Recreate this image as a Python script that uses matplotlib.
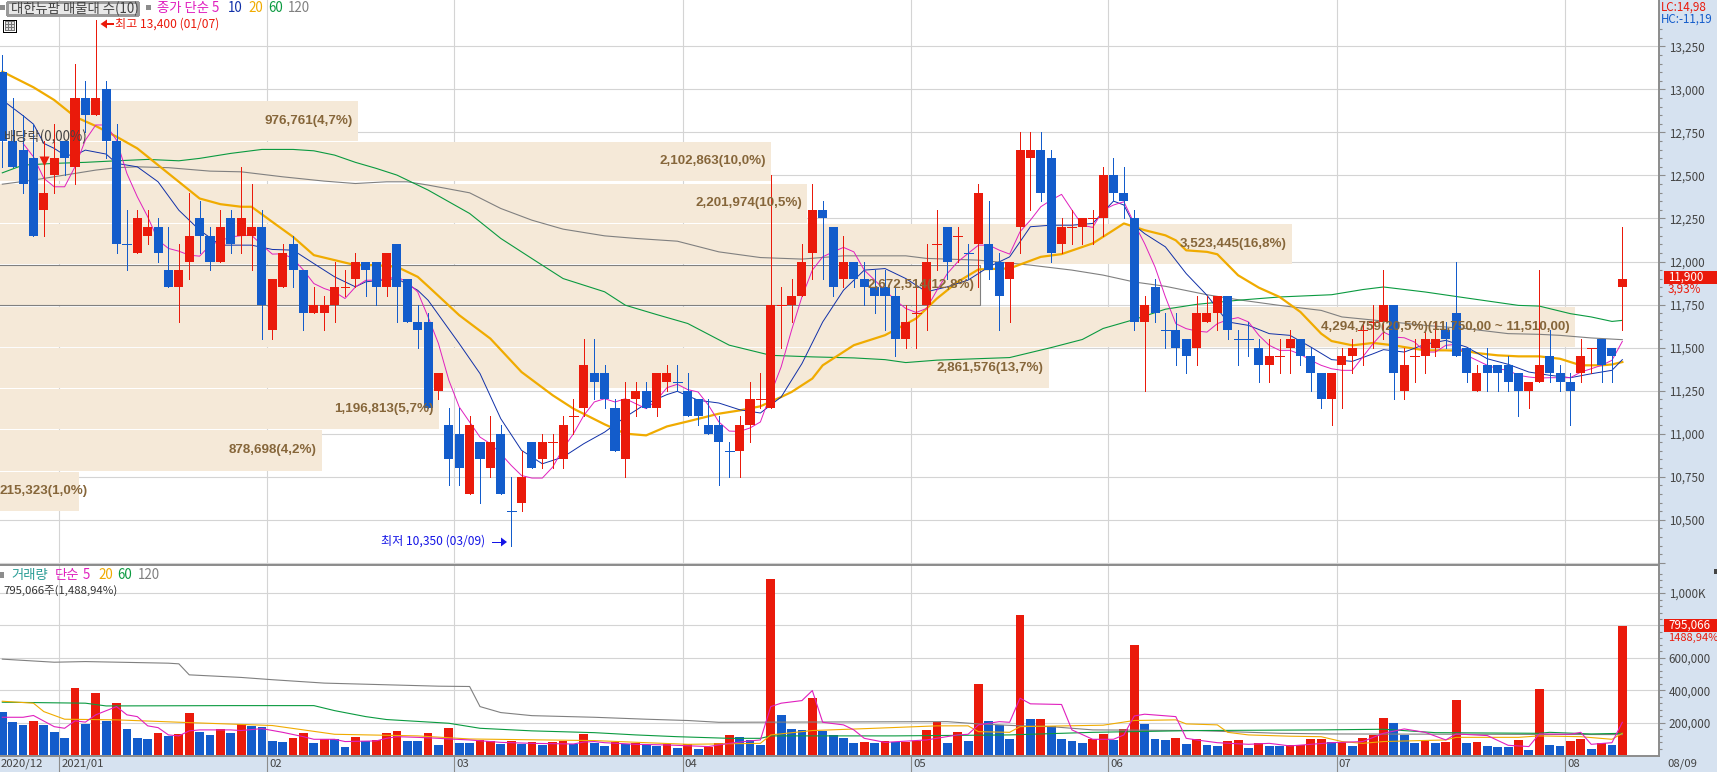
import matplotlib
matplotlib.use('Agg')
import matplotlib.pyplot as plt
from matplotlib.patches import Rectangle, Polygon
from matplotlib.ticker import FixedLocator

W, H = 1717, 772
FONTS = ['Noto Sans CJK KR', 'DejaVu Sans']
plt.rcParams['font.family'] = FONTS

RED = '#ea1a0b'
BLUE = '#135ccb'
BAND = '#f5e9d8'
GRID = '#d4d4d4'
PANEL = '#d6e2f0'
MAGENTA = '#e01fbe'
NAVY = '#1030a8'
ORANGE = '#f0ab00'
GREEN = '#0a9a40'
GRAY = '#808080'

# candles, day by day
opens = [13100,12700,12650,12600,12300,12500,12700,12550,12950,12850,
         13000,12700,12100,12050,12150,12200,11950,11850,12000,12250,
         12150,12000,12250,12150,12150,12200,11600,11850,12100,11950,
         11700,11700,11750,11850,11900,12000,12000,11850,12100,11900,
         11650,11650,11250,11050,11000,10650,10950,10800,11000,10550,
         10600,10950,10850,10950,10850,11100,11150,11350,11350,11150,
         10850,11200,11250,11150,11300,11300,11250,11200,11050,11050,
         10900,10900,11050,11200,11150,11750,11750,11800,12050,12300,
         12200,11900,12000,11900,11850,11850,11800,11550,11700,11750,
         12100,12200,12150,12050,12100,12100,12000,11900,12200,12600,
         12650,12600,12100,12200,12200,12250,12250,12500,12400,12250,
         11650,11850,11600,11600,11550,11500,11650,11700,11800,11550,
         11550,11500,11400,11450,11500,11550,11450,11350,11200,11400,
         11450,11600,11650,11650,11750,11250,11450,11450,11500,11600,
         11700,11500,11250,11400,11400,11400,11350,11250,11300,11450,
         11350,11300,11350,11500,11550,11500,11850]
closes = [12700,12550,12450,12150,12400,12600,12600,12950,12850,12950,
          12700,12100,12100,12250,12200,12050,11850,11950,12150,12150,
          12000,12200,12100,12250,12200,11750,11900,12050,11950,11700,
          11750,11750,11850,11850,12000,11950,11850,12050,11850,11650,
          11600,11150,11350,10850,10800,11050,10850,10950,10650,10550,
          10750,10800,10950,10950,11050,11100,11400,11300,11200,10900,
          11200,11250,11150,11350,11350,11300,11100,11100,11000,10950,
          10900,11050,11200,11200,11750,11750,11800,12000,12300,12250,
          11850,12000,11900,11850,11800,11800,11550,11650,11700,12000,
          12100,12000,12150,12050,12400,11950,11800,12000,12650,12650,
          12400,12050,12200,12200,12250,12250,12500,12400,12350,11650,
          11750,11700,11600,11500,11450,11700,11700,11800,11600,11550,
          11550,11400,11450,11450,11550,11450,11350,11200,11350,11450,
          11500,11600,11650,11750,11350,11400,11450,11550,11550,11550,
          11450,11350,11350,11350,11350,11300,11250,11300,11400,11350,
          11300,11250,11450,11500,11400,11450,11900]
highs = [13200,12950,12850,12800,12700,12800,12700,13150,13050,13400,
         13050,12800,12300,12300,12300,12250,12200,12100,12400,12350,
         12200,12300,12300,12550,12450,12300,11900,12100,12150,11950,
         11850,11800,12000,11950,12050,12000,12000,12050,12100,11900,
         11750,11700,11350,11150,11150,11100,10950,11100,11050,10750,
         10900,10950,11000,11000,11100,11200,11550,11550,11400,11200,
         11300,11300,11300,11350,11400,11400,11350,11200,11200,11100,
         10950,11100,11300,11350,12500,11850,11900,12100,12450,12350,
         12200,12150,12000,12000,11950,11950,11850,11750,11850,12100,
         12300,12200,12200,12100,12450,12350,12050,12000,12750,12750,
         12750,12650,12250,12300,12250,12300,12550,12600,12550,12300,
         11800,11900,11700,11700,11550,11800,11800,11800,11800,11600,
         11650,11550,11550,11550,11600,11550,11500,11350,11350,11500,
         11550,11650,11750,11950,11750,11500,11550,11600,11650,11650,
         12000,11500,11400,11500,11400,11450,11350,11300,11950,11600,
         11400,11350,11550,11500,11550,11500,12200]
lows = [12550,12550,12400,12150,12150,12400,12500,12450,12750,12850,
        12600,12050,11950,12050,12100,12000,11850,11650,11900,12050,
        11950,12000,12050,12050,11950,11550,11550,11850,11850,11600,
        11700,11600,11650,11800,11850,11800,11750,11800,11650,11650,
        11500,11150,11200,10700,10700,10650,10600,10750,10650,10350,
        10550,10800,10800,10800,10800,11000,11100,11200,11150,10900,
        10750,11100,11150,11100,11250,11250,11100,11050,11000,10700,
        10750,10750,10950,11150,11150,11500,11650,11800,11900,11900,
        11800,11850,11850,11750,11700,11600,11450,11500,11500,11600,
        11950,11900,12000,11900,11850,11900,11600,11650,12050,12300,
        12350,12000,12050,12100,12100,12100,12150,12350,12250,11600,
        11250,11650,11500,11400,11350,11400,11650,11600,11550,11400,
        11450,11300,11300,11350,11350,11400,11250,11150,11050,11150,
        11350,11400,11500,11550,11200,11200,11300,11350,11450,11500,
        11450,11300,11250,11250,11250,11250,11100,11150,11300,11300,
        11250,11050,11300,11350,11300,11300,11600]
down_dojis = [12, 49, 65, 70, 93, 112, 119, 120]

# price moving averages, index then value
ma5_x = list(range(2, 157))
ma5 = [12686,12608,12483,12434,12434,12550,12705,12793,12793,12705,12511,12376,12260,12124,12076,12060,12037,12031,
       12095,12120,12143,12150,12153,12095,12043,12045,12017,11950,11872,11843,11823,11785,11852,11891,11892,11900,
       11911,11880,11823,11678,11523,11310,11155,11068,10980,10942,10883,10816,10757,10742,10742,10806,10913,11000,
       11106,11184,11203,11184,11203,11174,11145,11194,11267,11287,11256,11242,11165,11068,11015,11013,11033,11068,
       11232,11388,11601,11795,11950,12027,12056,12082,12056,11950,11892,11833,11775,11727,11704,11727,11833,11930,
       11998,12047,12095,12095,12066,12043,12173,12240,12318,12357,12390,12299,12211,12198,12299,12328,12347,12221,
       12104,11968,11794,11639,11610,11596,11590,11639,11662,11674,11649,11571,11513,11484,11484,11461,11426,11397,
       11377,11368,11368,11445,11523,11590,11561,11557,11532,11474,11474,11513,11519,11455,11426,11397,11377,11368,
       11339,11329,11323,11325,11325,11325,11358,11377,11397,11426,11536]
ma10_x = [0,2,3,4,5,6,7,8,10,11,13,15,17,19,21,24,26,28,30,32,34,35,38,40,41,44,46,48,50,52,54,56,58,60,62,64,65,67,69,71,73,
          75,77,79,81,83,85,87,89,91,93,95,97,99,101,103,105,107,108,109,110,112,114,116,118,120,122,124,126,128,130,132,133,135,
          137,139,141,143,145,147,149,151,153,155,156]
ma10 = [12938,12847,12798,12686,12657,12618,12618,12647,12624,12570,12550,12463,12298,12182,12095,12095,12070,12066,11988,11911,
        11853,11882,11901,11833,11775,11523,11349,11087,10903,10825,10864,10942,11009,11097,11174,11227,11246,11194,11178,11139,
        11120,11213,11407,11649,11833,11950,11959,11901,11824,11853,11892,11969,12027,12202,12211,12211,12221,12351,12328,12211,
        12162,12085,11930,11804,11649,11629,11581,11571,11503,11430,11420,11464,11488,11474,11519,11542,11503,11435,11403,11358,
        11339,11325,11348,11368,11430]
ma20_x = [0,3,5,7,9,11,13,15,17,19,21,23,24,26,28,30,32,34,36,38,40,41,44,47,50,53,55,58,60,62,64,66,69,71,73,75,76,78,79,82,85,88,
          90,92,94,97,100,102,105,107,108,110,112,113,114,116,117,119,121,123,125,127,128,130,132,134,135,137,139,141,142,144,146,
          148,150,151,152,154,155,156]
ma20 = [13103,13012,12938,12841,12787,12725,12657,12560,12463,12366,12333,12318,12318,12230,12143,12037,12008,11979,11979,11969,
        11911,11856,11688,11552,11358,11223,11145,11054,11000,10990,11042,11071,11116,11135,11159,11213,11242,11320,11397,11514,
        11572,11669,11785,11882,11954,11960,12027,12043,12105,12182,12221,12182,12152,12123,12065,12056,12042,11920,11848,11794,
        11707,11581,11538,11513,11527,11513,11503,11484,11484,11480,11468,11455,11449,11449,11435,11416,11397,11397,11402,11416]
ma60_x = [0,2,5,8,11,14,17,19,22,25,28,30,32,34,36,38,41,45,48,51,54,58,60,63,66,70,74,78,82,85,87,90,97,101,104,106,109,112,
          115,119,123,128,131,133,137,141,146,148,151,153,155,156]
ma60 = [12515,12560,12570,12576,12585,12593,12585,12599,12628,12651,12651,12643,12618,12576,12541,12502,12415,12279,12134,12017,
        11901,11824,11746,11692,11640,11514,11455,11446,11440,11430,11413,11427,11442,11500,11547,11611,11663,11723,
        11751,11775,11794,11807,11837,11852,11823,11788,11745,11741,11697,11678,11652,11658]
ma120_x = [0,3,6,9,11,13,16,20,23,27,31,34,37,39,41,45,48,51,54,58,61,65,69,73,77,81,87,89,94,99,103,106,109,112,116,119,123,127,
           129,133,137,141,145,148,150,153,156]
ma120 = [12449,12473,12502,12531,12545,12550,12545,12525,12521,12492,12467,12453,12463,12463,12444,12399,12308,12240,12188,12149,
         12134,12118,12056,12023,12014,12033,12033,12018,12008,11979,11950,11921,11881,11856,11807,11778,11745,11716,
         11678,11654,11629,11610,11581,11577,11571,11556,11546]

# volume by price bands
band_tops = [12932,12695,12453,12217,11979,11736,11500,11258,11019,10780]
band_bottoms = [12699,12467,12224,11984,11746,11503,11265,11025,10786,10550]
band_vols = [976761,2102863,2201974,3523445,2672514,4294759,2861576,1196813,878698,215323]
band_labels = ['976,761(4,7%)','2,102,863(10,0%)','2,201,974(10,5%)','3,523,445(16,8%)','2,672,514(12,8%)',
               '4,294,759(20,5%)(11,750,00 ~ 11,510,00)','2,861,576(13,7%)','1,196,813(5,7%)','878,698(4,2%)','215,323(1,0%)']

# volume pane
volumes = [268000,204000,186000,211000,186000,142000,105000,415000,192000,384000,
           211000,322000,161000,105000,99000,136000,120000,130000,260000,142000,
           124000,161000,136000,192000,180000,173000,87000,80000,105000,136000,
           74000,99000,99000,50000,111000,87000,93000,136000,149000,87000,
           87000,136000,62000,167000,74000,74000,93000,87000,68000,87000,
           68000,80000,62000,80000,87000,68000,130000,74000,56000,80000,
           68000,74000,62000,56000,68000,43000,68000,37000,50000,74000,
           124000,111000,93000,62000,1084000,248000,161000,155000,353000,149000,
           124000,105000,74000,80000,74000,87000,80000,80000,87000,155000,
           204000,74000,142000,87000,440000,211000,186000,99000,867000,223000,
           223000,180000,99000,87000,74000,99000,130000,93000,161000,681000,
           192000,99000,93000,105000,68000,99000,62000,56000,87000,93000,
           43000,74000,56000,56000,62000,62000,99000,99000,80000,80000,
           56000,105000,124000,229000,198000,124000,74000,87000,74000,80000,
           341000,74000,80000,56000,50000,50000,93000,31000,409000,62000,
           56000,87000,99000,37000,74000,62000,795066]
vol_red = [3,7,9,11,15,17,18,21,23,28,29,31,34,36,37,38,41,43,46,47,49,51,53,54,56,59,61,64,66,68,69,70,74,78,83,85,87,88,89,90,
           92,94,98,100,105,106,108,109,113,115,118,119,121,124,125,126,127,129,131,132,133,137,139,140,142,146,148,151,152,154,156]
vol5_x = [0,2,3,5,6,7,8,9,11,12,13,14,15,16,17,18,19,22,23,25,27,29,30,32,33,36,37,38,40,42,43,45,48,51,55,56,57,58,61,64,68,70,
          72,73,74,75,77,78,79,81,82,83,85,89,92,93,94,96,97,98,99,102,103,105,107,108,109,110,113,114,115,117,120,122,124,128,131,
          133,135,137,139,140,143,145,147,148,151,152,153,155,156]
vol5 = [233000,233000,244000,175000,165000,211000,203000,248000,299000,248000,237000,180000,169000,124000,118000,149000,155000,
        155000,151000,163000,140000,113000,97000,97000,83000,87000,103000,113000,109000,103000,99000,93000,78000,72000,68000,
        80000,83000,76000,66000,62000,52000,72000,87000,93000,299000,320000,336000,398000,202000,186000,155000,103000,78000,
        93000,124000,128000,186000,206000,202000,351000,316000,312000,155000,97000,97000,124000,241000,252000,237000,103000,93000,
        76000,66000,72000,56000,76000,83000,134000,161000,140000,93000,130000,120000,60000,52000,130000,128000,140000,66000,76000,202000]
vol20_x = [0,3,4,6,11,18,26,32,40,45,57,62,66,73,74,78,84,90,93,94,97,98,106,109,113,114,115,117,118,120,124,127,129,131,133,139,
           140,146,148,152,155,156]
vol20 = [332000,320000,268000,221000,217000,200000,182000,128000,118000,99000,89000,76000,66000,72000,124000,151000,165000,180000,
         180000,144000,140000,175000,184000,213000,217000,192000,190000,186000,140000,124000,116000,113000,83000,72000,83000,93000,
         109000,109000,118000,113000,97000,134000]
vol60_x = [0,8,10,22,30,32,35,37,43,46,51,57,61,65,70,73,74,86,97,105,115,127,133,138,148,149,153,156]
vol60 = [326000,320000,303000,305000,305000,274000,237000,219000,196000,165000,149000,138000,124000,113000,103000,103000,118000,
         118000,124000,140000,151000,155000,159000,138000,134000,140000,130000,134000]
vol120_x = [0,5,8,16,17,18,23,26,31,42,45,46,48,51,57,62,66,69,91,94,98,101,103,105,115,123,128,156]
vol120 = [592000,573000,577000,567000,563000,495000,479000,465000,444000,425000,423000,299000,262000,243000,233000,221000,213000,
          202000,206000,192000,180000,175000,165000,155000,151000,134000,130000,126000]

# axis labels
price_ticks = [10250,10500,10750,11000,11250,11500,11750,12000,12250,12500,12750,13000,13250]
price_tick_labels = ['','10,500','10,750','11,000','11,250','11,500','11,750','12,000','12,250','12,500','12,750','13,000','13,250']
vol_ticks = [200000,400000,600000,800000,1000000]
vol_tick_labels = ['200,000','400,000','600,000','','1,000K']
month_pos = [5.5,25.5,43.5,65.5,87.5,106.5,128.5,150.5]
month_labels = ['2021/01','02','03','04','05','06','07','08']


def fx(x):
    return x / W


def fy(y):
    return 1 - y / H


def put(x, y, s, color='#444444', size=8.4, ha='left', weight='normal', family=None):
    fig.text(fx(x), fy(y), s, color=color, fontsize=size, ha=ha, va='center', weight=weight,
             family=family if family else FONTS, zorder=20)


def box(x0, y0, x1, y1, face, edge='none', lw=0.0):
    fig.add_artist(Rectangle((fx(x0), fy(y1)), (x1 - x0) / W, (y1 - y0) / H, transform=fig.transFigure,
                             facecolor=face, edgecolor=edge, linewidth=lw, zorder=15, antialiased=False))


def shape(points, color):
    fig.add_artist(Polygon([(fx(a), fy(b)) for a, b in points], closed=True, transform=fig.transFigure,
                           facecolor=color, edgecolor='none', zorder=15))


fig = plt.figure(figsize=(W / 100, H / 100), dpi=100, facecolor=PANEL)
ax = fig.add_axes([0, fy(564.5), 1659 / W, 564.5 / H])
vax = fig.add_axes([0, fy(756), 1659 / W, (756 - 564.5) / H])

xlim = (-0.2215, 159.53)
for a in (ax, vax):
    a.set_xlim(*xlim)
    a.set_axisbelow(True)
    a.xaxis.set_major_locator(FixedLocator(month_pos))
    a.grid(True, color=GRID, lw=0.8)
    a.yaxis.tick_right()
    for s in ('top', 'left'):
        a.spines[s].set_visible(False)
    for s in ('bottom', 'right'):
        a.spines[s].set_color('#8c8c8c')
        a.spines[s].set_linewidth(1.4)

ax.set_ylim(10240, 13519)
ax.set_yticks(price_ticks)
ax.set_yticklabels(price_tick_labels)
ax.yaxis.set_minor_locator(FixedLocator(list(range(10250, 13400, 50))))
ax.tick_params(axis='y', which='major', length=4.5, width=0.8, color='#8c8c8c', labelcolor='#444444', labelsize=8.4, pad=2.5)
ax.tick_params(axis='y', which='minor', length=2.2, width=0.8, color='#8c8c8c')
ax.tick_params(axis='x', length=0, labelbottom=False)

# volume by price bands sit under everything else
band_widths = [v * 3.667e-4 / 10.385 for v in band_vols]
for top, bottom, w in zip(band_tops, band_bottoms, band_widths):
    ax.barh((top + bottom) / 2, w, height=top - bottom, left=xlim[0], color=BAND, zorder=1, antialiased=False)
# outline of the band holding the last close
ax.plot([xlim[0], xlim[0] + band_widths[4], xlim[0] + band_widths[4], xlim[0]],
        [band_tops[4], band_tops[4], band_bottoms[4], band_bottoms[4]], color=GRAY, lw=0.8, zorder=2)

for xs, ys, c, lw in [(ma120_x, ma120, GRAY, 0.8), (ma60_x, ma60, GREEN, 0.8), (ma20_x, ma20, ORANGE, 1.6),
                      (ma10_x, ma10, NAVY, 0.7), (ma5_x, ma5, MAGENTA, 0.7)]:
    ax.plot(xs, ys, color=c, lw=lw, zorder=3)

for i in range(len(opens)):
    o, c = opens[i], closes[i]
    col = RED if c >= o else BLUE
    if o == c and i in down_dojis:
        col = BLUE
    ax.vlines(i, lows[i], highs[i], color=col, lw=0.72, zorder=4, antialiased=False)
    if o == c:
        ax.hlines(o, i - 0.43, i + 0.43, color=col, lw=0.72, zorder=4, antialiased=False)
    else:
        ax.bar(i, abs(c - o), bottom=min(o, c), width=0.87, color=col, zorder=5, antialiased=False)

ax.plot(4, 12585, marker='v', ms=6.5, color=RED, mec='none', zorder=6)

vax.set_ylim(-6192, 1176470)
vax.set_yticks(vol_ticks)
vax.set_yticklabels(vol_tick_labels)
vax.yaxis.set_minor_locator(FixedLocator(list(range(40000, 1160000, 40000))))
vax.tick_params(axis='y', which='major', length=4.5, width=0.8, color='#8c8c8c', labelcolor='#444444', labelsize=8.4, pad=2.5)
vax.tick_params(axis='y', which='minor', length=2.2, width=0.8, color='#8c8c8c')
vax.tick_params(axis='x', length=11.5, width=0.8, color='#8c8c8c', labelbottom=False)
vax.spines['top'].set_visible(True)
vax.spines['top'].set_color('#8c8c8c')
vax.spines['top'].set_linewidth(1.4)

vol_colors = [RED if i in vol_red else BLUE for i in range(len(volumes))]
vax.bar(range(len(volumes)), volumes, width=0.85, color=vol_colors, zorder=3, antialiased=False)
for xs, ys, c in [(vol120_x, vol120, GRAY), (vol60_x, vol60, GREEN), (vol20_x, vol20, ORANGE), (vol5_x, vol5, MAGENTA)]:
    vax.plot(xs, ys, color=c, lw=0.8, zorder=4)

# date strip
vax.annotate('2020/12', (xlim[0], 0), xycoords=('data', 'axes fraction'), xytext=(1, -8), textcoords='offset pixels',
             color='#444444', fontsize=8.2, va='center', annotation_clip=False)
for p, lab in zip(month_pos, month_labels):
    vax.annotate(lab, (p, 0), xycoords=('data', 'axes fraction'), xytext=(2, -8), textcoords='offset pixels',
                 color='#444444', fontsize=8.2, va='center', annotation_clip=False)
put(1667, 764, '08/09', size=8.2)

# band captions
for i, (lab, v) in enumerate(zip(band_labels, band_vols)):
    y = 46.3 + (13250 - (band_tops[i] + band_bottoms[i]) / 2) / 5.814
    if i == 9:
        put(0, y, lab, color='#86663a', size=9.6, weight='bold', family=['Liberation Sans'])
    else:
        put(v * 3.667e-4 - 5.5, y, lab, color='#86663a', size=9.6, ha='right', weight='bold', family=['Liberation Sans'])

# top left legend
box(0, 5, 5, 10, '#8c8c8c')
box(7, 2, 138, 15, '#e8e8e8', '#999999', 0.8)
put(11, 9, '대한뉴팜 매물대 수(10)', size=9.6)
box(146, 5, 151, 10, '#8c8c8c')
put(157, 8, '종가 단순 5', MAGENTA, 9.6)
put(228, 8, '10', NAVY, 9.6)
put(248, 8, '20', ORANGE, 9.6)
put(268, 8, '60', GREEN, 9.6)
put(288, 8, '120', GRAY, 9.6)
box(2.5, 19.5, 15.5, 32, '#ffffff', '#000000', 0.7)
box(4.5, 21.5, 13.5, 29.5, '#e0e0e0', '#777777', 0.5)
box(7.5, 21.5, 10.5, 29.5, '#e0e0e0', '#777777', 0.5)
box(4.5, 24, 13.5, 27, 'none', '#777777', 0.5)

# high, low and dividend notes
shape([(100.5, 24), (107, 19.5), (107, 28.5)], RED)
box(107, 23.5, 114, 24.7, RED)
put(115, 24, '최고 13,400 (01/07)', RED, 8.7)
put(381, 541.5, '최저 10,350 (03/09)', '#1414e6', 8.7)
box(492, 541.5, 501, 542.7, '#1414e6')
shape([(507, 542), (501, 537.5), (501, 546.5)], '#1414e6')
put(4, 137, '배당락(0,00%)', '#444444', 9.6)

# volume legend
box(0, 572, 4, 578, '#8c8c8c')
put(11, 575, '거래량', '#2a9d96', 9.6)
put(55, 575, '단순', MAGENTA, 9.6)
put(83, 575, '5', MAGENTA, 9.6)
put(98, 575, '20', ORANGE, 9.6)
put(117, 575, '60', GREEN, 9.6)
put(138, 575, '120', GRAY, 9.6)
put(3, 590.5, '795,066주(1,488,94%)', '#333333', 8.2)

# right side tags
put(1661, 7, 'LC:14,98', RED, 8.4)
put(1661, 19, 'HC:-11,19', BLUE, 8.4)
box(1664, 271, 1717, 284, RED)
put(1668, 277.5, '11,900', '#ffffff', 8.4)
put(1668, 289.5, '3,93%', RED, 8.4)
box(1664, 619, 1717, 632, RED)
put(1668, 625.5, '795,066', '#ffffff', 8.4)
put(1668, 637.5, '1488,94%', RED, 8)
box(1714, 569, 1717, 574, '#444444')

fig.savefig('out.png', dpi=100, facecolor=PANEL)
